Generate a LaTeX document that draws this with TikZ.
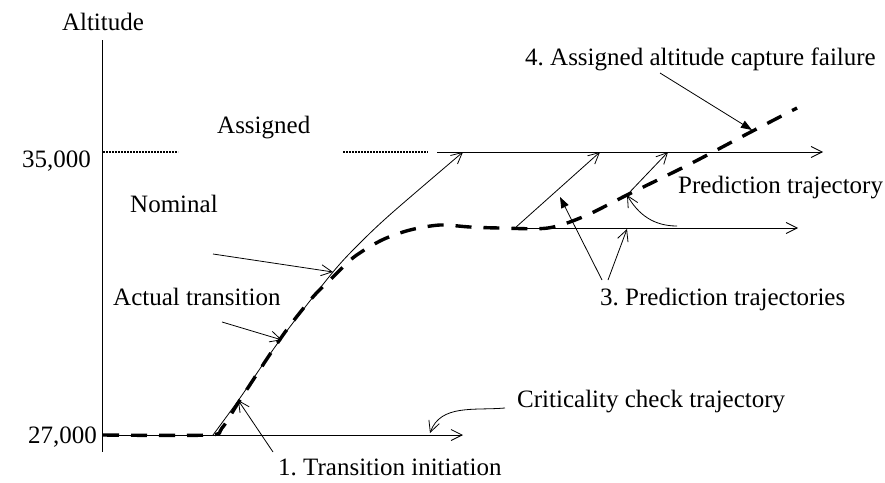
\documentclass[tikz,border=0pt]{standalone}
\usepackage{fontspec}
\setmainfont{Liberation Serif}
\usetikzlibrary{arrows.meta}
\frenchspacing

\begin{document}
\begin{tikzpicture}[x=1pt, y=-1pt,
        lbl/.style={font=\fontsize{25}{30}\selectfont, inner sep=0pt, anchor=base west},
        traj/.style={line width=0.8pt, -{Straight Barb[length=11pt, width=11pt]}},
        pointer/.style={line width=0.8pt, -{Triangle[length=11pt, width=8pt]}},
        dotline/.style={line width=1.2pt, dash pattern=on 2pt off 1pt},
        actual/.style={line width=3.4pt, dash pattern=on 16pt off 12pt}]
        \useasboundingbox (0,0) rectangle (885,482);

        % Axis and altitude levels
        \coordinate (top) at (102,40);
        \coordinate (bot) at (102,452);
        \draw[line width=0.8pt] (top) -- (bot);
        \node[lbl, anchor=base] (alt) at (103,30) {Altitude};
        \node[lbl, anchor=base east] (l35) at (91,167) {35,000};
        \node[lbl, anchor=base east] (l27) at (97,443) {27,000};

        % Assigned altitude
        \coordinate (as0) at (103,152);
        \coordinate (as1) at (178,152);
        \coordinate (as2) at (343,152);
        \coordinate (as3) at (428,152);
        \coordinate (as4) at (437,152);
        \coordinate (as5) at (823,152);
        \draw[dotline] (as0) -- (as1);
        \draw[dotline] (as2) -- (as3);
        \draw[traj] (as4) -- (as5);
        \node[lbl] (assigned) at (217,133) {Assigned};

        % Criticality check trajectory
        \coordinate (c0) at (102,435);
        \coordinate (c1) at (463,435);
        \draw[traj] (c0) -- (c1);

        % Nominal transition
        \coordinate (n0) at (213,435);
        \coordinate (n1) at (240,398);
        \coordinate (n2) at (280,340);
        \coordinate (n3) at (333,272);
        \coordinate (n4) at (362,241);
        \coordinate (n5) at (393,212);
        \coordinate (n6) at (463,152);
        \draw[traj] plot[smooth, tension=0.5] coordinates {(n0) (n1) (n2) (n3) (n4) (n5) (n6)};
        \node[lbl] (nominal) at (130,212) {Nominal};

        % Prediction trajectories
        \coordinate (p0) at (515,228);
        \coordinate (p1) at (600,152);
        \coordinate (p2) at (515,228);
        \coordinate (p3) at (798,228);
        \coordinate (p4) at (627,195);
        \coordinate (p5) at (668,152);
        \draw[traj] (p0) -- (p1);
        \draw[traj] (p2) -- (p3);
        \draw[traj] (p4) -- (p5);

        % Actual transition
        \draw[actual] plot[smooth, tension=0.5] coordinates {(103,435) (208,435) (222,428)
            (240,400) (283,335) (312,298) (332,278) (354,257) (382,240) (410,230) (440,225)
            (470,227) (500,228) (548,228) (585,216) (627,195) (690,164) (745,135) (797,108)};
        \node[lbl] (actual) at (113,305) {Actual transition};

        % Labels and leaders
        \coordinate (nl0) at (213,254);
        \coordinate (nl1) at (333,272);
        \draw[traj] (nl0) -- (nl1);
        \coordinate (al0) at (222,322);
        \coordinate (al1) at (282,340);
        \draw[traj] (al0) -- (al1);

        \node[lbl] (init) at (278,475) {1. Transition initiation};
        \coordinate (il0) at (273,452);
        \coordinate (il1) at (238,400);
        \draw[traj] (il0) -- (il1);

        \node[lbl] (crit) at (517,407) {Criticality check trajectory};
        \coordinate (cl0) at (505,408);
        \coordinate (cl1) at (430,433);
        \draw[traj] (cl0) to[out=185, in=70] (cl1);

        \node[lbl] (pred) at (678,193) {Prediction trajectory};
        \coordinate (pl0) at (677,226);
        \coordinate (pl1) at (627,195);
        \draw[traj] (pl0) to[out=180, in=-60] (pl1);

        \node[lbl] (preds) at (600,305) {3. Prediction trajectories};
        \coordinate (ps0) at (602,280);
        \coordinate (ps1) at (560,197);
        \coordinate (ps2) at (608,280);
        \coordinate (ps3) at (627,229);
        \draw[pointer] (ps0) -- (ps1);
        \draw[traj] (ps2) -- (ps3);

        \node[lbl] (fail) at (525,65) {4. Assigned altitude capture failure};
        \coordinate (fl0) at (660,73);
        \coordinate (fl1) at (752,130);
        \draw[pointer] (fl0) -- (fl1);
    \end{tikzpicture}
\end{document}
